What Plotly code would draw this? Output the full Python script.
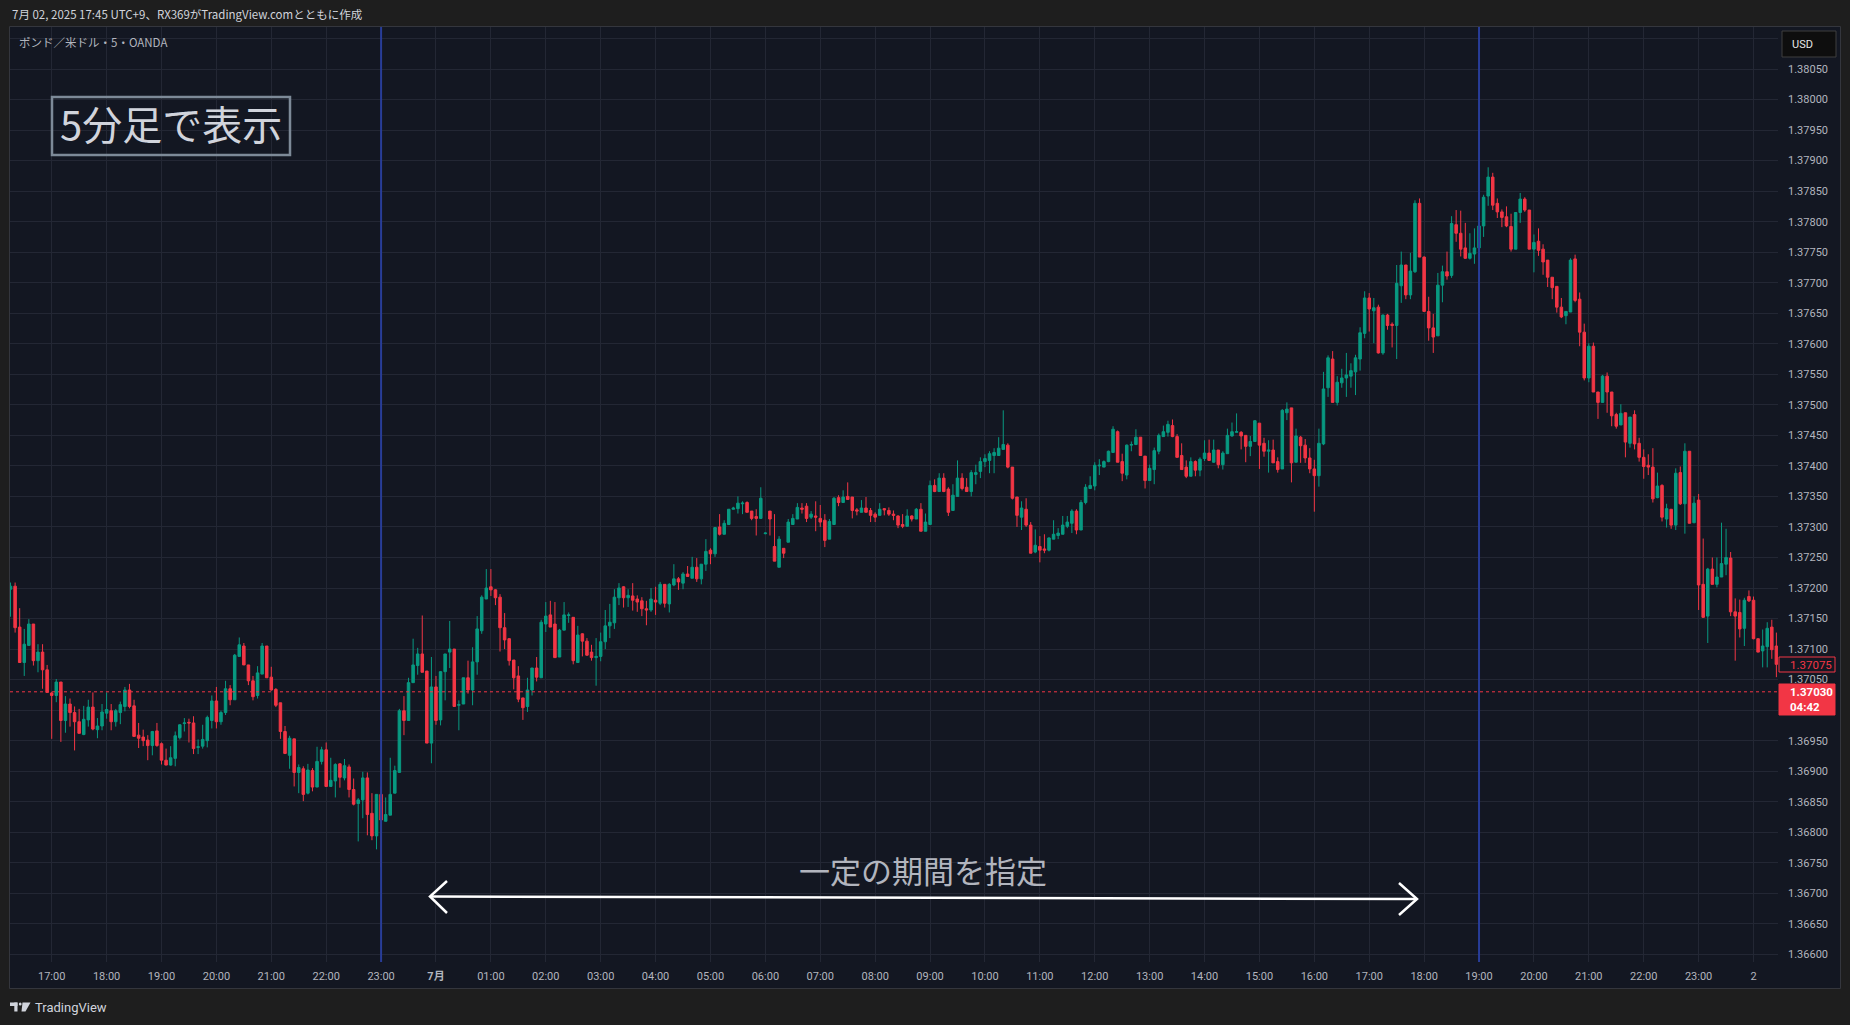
import pandas as pd
import plotly.graph_objects as go

# ---------------- data (GBP/USD, 5-minute candles, OANDA) ----------------
START_TIME = "2025-06-30 16:15"
BAR_FREQ = "5min"

OPEN = [
    1.37198, 1.37203, 1.37136, 1.37078, 1.37106, 1.37141, 1.37081, 1.37095, 1.37066, 1.37028,
    1.37024, 1.37046, 1.36983, 1.37010, 1.36996, 1.36981, 1.36960, 1.36984, 1.37005, 1.36968,
    1.36974, 1.36995, 1.36999, 1.36981, 1.36996, 1.37006, 1.37033, 1.37007, 1.36959, 1.36956,
    1.36951, 1.36942, 1.36966, 1.36945, 1.36918, 1.36910, 1.36921, 1.36955, 1.36978, 1.36980,
    1.36979, 1.36939, 1.36941, 1.36950, 1.36983, 1.37015, 1.36981, 1.36996, 1.37035, 1.37017,
    1.37088, 1.37105, 1.37074, 1.37048, 1.37024, 1.37059, 1.37105, 1.37054, 1.37034, 1.37012,
    1.36965, 1.36926, 1.36953, 1.36898, 1.36904, 1.36864, 1.36901, 1.36874, 1.36916, 1.36935,
    1.36875, 1.36884, 1.36912, 1.36889, 1.36907, 1.36870, 1.36847, 1.36853, 1.36889, 1.36831,
    1.36794, 1.36862, 1.36818, 1.36828, 1.36864, 1.36898, 1.36999, 1.36983, 1.37045, 1.37073,
    1.37092, 1.37064, 1.36946, 1.37038, 1.36984, 1.37063, 1.37095, 1.37100, 1.37008, 1.37010,
    1.37053, 1.37033, 1.37079, 1.37130, 1.37182, 1.37202, 1.37197, 1.37185, 1.37135, 1.37117,
    1.37082, 1.37056, 1.37020, 1.37006, 1.37033, 1.37069, 1.37053, 1.37141, 1.37156, 1.37141,
    1.37087, 1.37131, 1.37155, 1.37152, 1.37078, 1.37125, 1.37113, 1.37095, 1.37086,
    1.37088, 1.37112, 1.37138, 1.37143, 1.37184, 1.37202, 1.37184, 1.37187, 1.37182, 1.37179, 1.37166,
    1.37164, 1.37180, 1.37175, 1.37206, 1.37174, 1.37205, 1.37215, 1.37208, 1.37223, 1.37216,
    1.37234, 1.37215, 1.37239, 1.37262, 1.37256, 1.37300, 1.37288, 1.37304, 1.37329, 1.37330,
    1.37338, 1.37340, 1.37326, 1.37317, 1.37314, 1.37289, 1.37326, 1.37268, 1.37234, 1.37265,
    1.37275, 1.37304, 1.37313, 1.37331, 1.37334, 1.37316, 1.37318, 1.37314, 1.37311, 1.37280,
    1.37304, 1.37348, 1.37340, 1.37350, 1.37349, 1.37328, 1.37324, 1.37331, 1.37327, 1.37321,
    1.37319, 1.37330, 1.37327, 1.37321, 1.37318, 1.37304, 1.37301, 1.37318, 1.37313, 1.37329,
    1.37293, 1.37304, 1.37368, 1.37358, 1.37380, 1.37362, 1.37327, 1.37350, 1.37380, 1.37365,
    1.37358, 1.37386, 1.37391, 1.37407, 1.37409, 1.37417, 1.37417, 1.37427, 1.37434, 1.37398,
    1.37349, 1.37316, 1.37329, 1.37303, 1.37259, 1.37268, 1.37264, 1.37262, 1.37280, 1.37286,
    1.37288, 1.37301, 1.37306, 1.37326, 1.37295, 1.37340, 1.37363, 1.37367, 1.37400, 1.37398,
    1.37407, 1.37422, 1.37456, 1.37407, 1.37385, 1.37434, 1.37435, 1.37447, 1.37416, 1.37376,
    1.37394, 1.37424, 1.37448, 1.37455, 1.37466, 1.37448, 1.37417, 1.37398, 1.37383, 1.37407, 1.37393,
    1.37412, 1.37421, 1.37406, 1.37426, 1.37402, 1.37420, 1.37449, 1.37455, 1.37455,
    1.37450, 1.37432, 1.37440, 1.37470, 1.37437, 1.37424, 1.37426, 1.37407, 1.37395, 1.37487,
    1.37495, 1.37406, 1.37447, 1.37434, 1.37413, 1.37395, 1.37384, 1.37436, 1.37528, 1.37575,
    1.37504, 1.37536, 1.37544, 1.37547, 1.37554, 1.37575, 1.37617, 1.37675, 1.37654, 1.37660,
    1.37585, 1.37647, 1.37632, 1.37630, 1.37695, 1.37729, 1.37680, 1.37718, 1.37830, 1.37742,
    1.37653, 1.37626, 1.37613, 1.37696, 1.37718, 1.37712, 1.37795, 1.37781, 1.37757, 1.37740,
    1.37747, 1.37757, 1.37793, 1.37842, 1.37873, 1.37830, 1.37816, 1.37808, 1.37792, 1.37755,
    1.37815, 1.37837, 1.37819, 1.37755, 1.37768, 1.37755, 1.37737, 1.37709, 1.37694, 1.37660,
    1.37646, 1.37652, 1.37739, 1.37673, 1.37619, 1.37544, 1.37596, 1.37521, 1.37504, 1.37547,
    1.37521, 1.37484, 1.37467, 1.37487, 1.37437, 1.37484, 1.37437, 1.37414, 1.37401, 1.37398,
    1.37348, 1.37368, 1.37313, 1.37329, 1.37303, 1.37389, 1.37338, 1.37424, 1.37307, 1.37344,
    1.37206, 1.37154, 1.37231, 1.37206, 1.37218, 1.37239, 1.37249, 1.37161, 1.37160, 1.37134,
    1.37186, 1.37180, 1.37117, 1.37097, 1.37104, 1.37136, 1.37105,
]

HIGH = [
    1.37209, 1.37209, 1.37167, 1.37133, 1.37149, 1.37141, 1.37108, 1.37108, 1.37074, 1.37030,
    1.37051, 1.37046, 1.37023, 1.37019, 1.37006, 1.37002, 1.37007, 1.37017, 1.37029, 1.36987,
    1.37010, 1.37029, 1.37010, 1.37002, 1.37014, 1.37038, 1.37043, 1.37017, 1.36979, 1.36968,
    1.36959, 1.36966, 1.36979, 1.36947, 1.36937, 1.36941, 1.36965, 1.36977, 1.36987, 1.36986,
    1.36990, 1.36952, 1.36976, 1.36991, 1.37024, 1.37038, 1.36999, 1.37048, 1.37041, 1.37092,
    1.37119, 1.37110, 1.37074, 1.37056, 1.37072, 1.37110, 1.37105, 1.37071, 1.37036, 1.37012,
    1.36974, 1.36958, 1.36953, 1.36911, 1.36908, 1.36912, 1.36905, 1.36940, 1.36940, 1.36947,
    1.36922, 1.36913, 1.36913, 1.36920, 1.36911, 1.36888, 1.36856, 1.36899, 1.36898, 1.36864,
    1.36862, 1.36875, 1.36857, 1.36922, 1.36909, 1.37002, 1.37023, 1.37053, 1.37117, 1.37102,
    1.37155, 1.37064, 1.37087, 1.37056, 1.37064, 1.37092, 1.37146, 1.37100, 1.37016, 1.37053,
    1.37081, 1.37103, 1.37154, 1.37188, 1.37231, 1.37231, 1.37198, 1.37190, 1.37159, 1.37118,
    1.37082, 1.37072, 1.37020, 1.37053, 1.37069, 1.37087, 1.37148, 1.37177, 1.37179, 1.37177,
    1.37133, 1.37177, 1.37160, 1.37152, 1.37138, 1.37126, 1.37118, 1.37107, 1.37118,
    1.37127, 1.37164, 1.37174, 1.37198, 1.37208, 1.37203, 1.37198, 1.37208, 1.37188, 1.37185, 1.37179,
    1.37200, 1.37202, 1.37210, 1.37206, 1.37208, 1.37239, 1.37218, 1.37226, 1.37236, 1.37251,
    1.37249, 1.37239, 1.37280, 1.37265, 1.37300, 1.37321, 1.37311, 1.37329, 1.37333, 1.37350,
    1.37342, 1.37342, 1.37326, 1.37329, 1.37365, 1.37291, 1.37326, 1.37321, 1.37285, 1.37265,
    1.37313, 1.37321, 1.37339, 1.37339, 1.37339, 1.37326, 1.37342, 1.37336, 1.37321, 1.37313,
    1.37349, 1.37352, 1.37360, 1.37373, 1.37349, 1.37331, 1.37344, 1.37349, 1.37331, 1.37324,
    1.37339, 1.37331, 1.37332, 1.37327, 1.37319, 1.37321, 1.37329, 1.37319, 1.37331, 1.37339,
    1.37322, 1.37376, 1.37378, 1.37388, 1.37388, 1.37365, 1.37370, 1.37409, 1.37388, 1.37380,
    1.37393, 1.37402, 1.37414, 1.37419, 1.37424, 1.37429, 1.37447, 1.37491, 1.37437, 1.37398,
    1.37349, 1.37342, 1.37347, 1.37308, 1.37296, 1.37285, 1.37288, 1.37283, 1.37311, 1.37298,
    1.37318, 1.37318, 1.37329, 1.37329, 1.37344, 1.37370, 1.37383, 1.37406, 1.37411, 1.37409,
    1.37425, 1.37465, 1.37458, 1.37420, 1.37435, 1.37440, 1.37460, 1.37447, 1.37416, 1.37402,
    1.37430, 1.37453, 1.37466, 1.37474, 1.37476, 1.37452, 1.37437, 1.37409, 1.37414, 1.37409, 1.37414,
    1.37442, 1.37443, 1.37443, 1.37426, 1.37424, 1.37461, 1.37471, 1.37486, 1.37457,
    1.37450, 1.37449, 1.37475, 1.37470, 1.37446, 1.37442, 1.37443, 1.37414, 1.37493, 1.37504,
    1.37495, 1.37461, 1.37449, 1.37444, 1.37429, 1.37410, 1.37461, 1.37554, 1.37581, 1.37588,
    1.37547, 1.37559, 1.37585, 1.37568, 1.37582, 1.37627, 1.37686, 1.37683, 1.37675, 1.37664,
    1.37648, 1.37649, 1.37635, 1.37729, 1.37751, 1.37729, 1.37749, 1.37835, 1.37838, 1.37743,
    1.37677, 1.37649, 1.37716, 1.37728, 1.37751, 1.37809, 1.37819, 1.37818, 1.37798, 1.37781,
    1.37789, 1.37804, 1.37844, 1.37889, 1.37880, 1.37838, 1.37820, 1.37825, 1.37813, 1.37815,
    1.37847, 1.37840, 1.37819, 1.37779, 1.37789, 1.37763, 1.37737, 1.37709, 1.37694, 1.37675,
    1.37653, 1.37740, 1.37746, 1.37684, 1.37633, 1.37601, 1.37602, 1.37521, 1.37549, 1.37553,
    1.37521, 1.37487, 1.37501, 1.37487, 1.37480, 1.37491, 1.37446, 1.37427, 1.37419, 1.37429,
    1.37389, 1.37370, 1.37338, 1.37329, 1.37396, 1.37399, 1.37437, 1.37424, 1.37350, 1.37354,
    1.37281, 1.37233, 1.37250, 1.37250, 1.37307, 1.37297, 1.37259, 1.37183, 1.37181, 1.37184,
    1.37196, 1.37186, 1.37117, 1.37132, 1.37144, 1.37148, 1.37127,
]

LOW = [
    1.37153, 1.37127, 1.37078, 1.37056, 1.37106, 1.37073, 1.37062, 1.37035, 1.37029, 1.36953,
    1.37013, 1.36948, 1.36963, 1.36973, 1.36934, 1.36962, 1.36959, 1.36973, 1.36967, 1.36954,
    1.36967, 1.36986, 1.36967, 1.36973, 1.36977, 1.36998, 1.37003, 1.36957, 1.36938, 1.36941,
    1.36918, 1.36926, 1.36940, 1.36911, 1.36910, 1.36909, 1.36908, 1.36952, 1.36965, 1.36947,
    1.36928, 1.36928, 1.36937, 1.36939, 1.36970, 1.36970, 1.36976, 1.36992, 1.37008, 1.37017,
    1.37088, 1.37074, 1.37041, 1.37016, 1.37019, 1.37059, 1.37053, 1.37032, 1.37005, 1.36953,
    1.36928, 1.36904, 1.36875, 1.36864, 1.36851, 1.36862, 1.36867, 1.36874, 1.36911, 1.36875,
    1.36875, 1.36857, 1.36873, 1.36885, 1.36857, 1.36844, 1.36785, 1.36823, 1.36795, 1.36787,
    1.36772, 1.36743, 1.36818, 1.36828, 1.36864, 1.36898, 1.36959, 1.36983, 1.37045, 1.37058,
    1.37062, 1.36946, 1.36913, 1.36976, 1.36975, 1.37016, 1.37069, 1.37006, 1.36967, 1.37010,
    1.37027, 1.37008, 1.37058, 1.37125, 1.37182, 1.37187, 1.37172, 1.37096, 1.37100, 1.37073,
    1.37034, 1.37013, 1.36984, 1.36997, 1.37024, 1.37047, 1.37053, 1.37128, 1.37136, 1.37086,
    1.37087, 1.37131, 1.37143, 1.37075, 1.37078, 1.37088, 1.37089, 1.37081, 1.37040,
    1.37080, 1.37100, 1.37118, 1.37133, 1.37172, 1.37168, 1.37169, 1.37163, 1.37161, 1.37154, 1.37139,
    1.37161, 1.37156, 1.37172, 1.37168, 1.37160, 1.37203, 1.37197, 1.37198, 1.37218, 1.37216,
    1.37210, 1.37206, 1.37228, 1.37239, 1.37251, 1.37286, 1.37288, 1.37304, 1.37329, 1.37322,
    1.37321, 1.37324, 1.37311, 1.37286, 1.37313, 1.37288, 1.37286, 1.37244, 1.37234, 1.37249,
    1.37275, 1.37304, 1.37313, 1.37322, 1.37308, 1.37313, 1.37293, 1.37300, 1.37267, 1.37280,
    1.37304, 1.37334, 1.37340, 1.37345, 1.37314, 1.37319, 1.37324, 1.37324, 1.37308, 1.37308,
    1.37319, 1.37319, 1.37318, 1.37311, 1.37298, 1.37298, 1.37301, 1.37309, 1.37313, 1.37293,
    1.37293, 1.37304, 1.37357, 1.37358, 1.37357, 1.37318, 1.37327, 1.37350, 1.37360, 1.37358,
    1.37350, 1.37370, 1.37380, 1.37398, 1.37388, 1.37388, 1.37417, 1.37427, 1.37396, 1.37345,
    1.37300, 1.37295, 1.37300, 1.37257, 1.37257, 1.37242, 1.37257, 1.37260, 1.37280, 1.37280,
    1.37288, 1.37298, 1.37290, 1.37288, 1.37295, 1.37337, 1.37362, 1.37360, 1.37385, 1.37398,
    1.37406, 1.37422, 1.37406, 1.37375, 1.37378, 1.37424, 1.37434, 1.37417, 1.37363, 1.37376,
    1.37370, 1.37419, 1.37448, 1.37448, 1.37447, 1.37414, 1.37394, 1.37380, 1.37383, 1.37383, 1.37383,
    1.37408, 1.37408, 1.37405, 1.37396, 1.37394, 1.37420, 1.37448, 1.37455, 1.37427,
    1.37406, 1.37416, 1.37440, 1.37395, 1.37415, 1.37389, 1.37405, 1.37389, 1.37395, 1.37475,
    1.37373, 1.37406, 1.37405, 1.37405, 1.37388, 1.37325, 1.37366, 1.37434, 1.37513, 1.37504,
    1.37499, 1.37528, 1.37513, 1.37528, 1.37516, 1.37556, 1.37609, 1.37620, 1.37601, 1.37584,
    1.37582, 1.37623, 1.37594, 1.37575, 1.37667, 1.37673, 1.37673, 1.37716, 1.37742, 1.37653,
    1.37605, 1.37585, 1.37613, 1.37668, 1.37705, 1.37708, 1.37767, 1.37743, 1.37739, 1.37738,
    1.37731, 1.37753, 1.37775, 1.37826, 1.37819, 1.37806, 1.37791, 1.37791, 1.37751, 1.37755,
    1.37798, 1.37816, 1.37755, 1.37717, 1.37744, 1.37713, 1.37693, 1.37673, 1.37651, 1.37642,
    1.37632, 1.37652, 1.37668, 1.37596, 1.37540, 1.37537, 1.37521, 1.37477, 1.37504, 1.37487,
    1.37465, 1.37461, 1.37467, 1.37414, 1.37430, 1.37427, 1.37407, 1.37379, 1.37385, 1.37340,
    1.37347, 1.37309, 1.37299, 1.37297, 1.37295, 1.37336, 1.37289, 1.37306, 1.37306, 1.37164,
    1.37151, 1.37110, 1.37206, 1.37201, 1.37218, 1.37221, 1.37154, 1.37081, 1.37119, 1.37105,
    1.37177, 1.37116, 1.37095, 1.37070, 1.37070, 1.37084, 1.37054,
]

CLOSE = [
    1.37203, 1.37135, 1.37078, 1.37108, 1.37141, 1.37081, 1.37095, 1.37066, 1.37029, 1.37024,
    1.37046, 1.36983, 1.37010, 1.36996, 1.36981, 1.36962, 1.36985, 1.37005, 1.36969, 1.36974,
    1.36997, 1.37001, 1.36981, 1.36999, 1.37009, 1.37033, 1.37006, 1.36957, 1.36954, 1.36950,
    1.36942, 1.36965, 1.36942, 1.36918, 1.36910, 1.36922, 1.36958, 1.36976, 1.36979, 1.36979,
    1.36937, 1.36940, 1.36952, 1.36988, 1.37015, 1.36981, 1.36996, 1.37035, 1.37017, 1.37090,
    1.37107, 1.37074, 1.37048, 1.37022, 1.37061, 1.37105, 1.37053, 1.37033, 1.37008, 1.36965,
    1.36929, 1.36954, 1.36898, 1.36906, 1.36862, 1.36902, 1.36874, 1.36916, 1.36935, 1.36875,
    1.36885, 1.36911, 1.36890, 1.36909, 1.36870, 1.36846, 1.36853, 1.36889, 1.36829, 1.36794,
    1.36862, 1.36820, 1.36829, 1.36862, 1.36901, 1.36999, 1.36983, 1.37045, 1.37074, 1.37092,
    1.37062, 1.36946, 1.37038, 1.36983, 1.37063, 1.37092, 1.37100, 1.37006, 1.37009, 1.37053,
    1.37033, 1.37079, 1.37133, 1.37185, 1.37200, 1.37197, 1.37184, 1.37135, 1.37115, 1.37081,
    1.37053, 1.37018, 1.37004, 1.37033, 1.37069, 1.37054, 1.37144, 1.37154, 1.37136, 1.37086,
    1.37131, 1.37156, 1.37156, 1.37081, 1.37123, 1.37113, 1.37090, 1.37086, 1.37088,
    1.37112, 1.37138, 1.37144, 1.37185, 1.37200, 1.37184, 1.37188, 1.37180, 1.37177, 1.37166, 1.37164,
    1.37182, 1.37177, 1.37206, 1.37175, 1.37206, 1.37215, 1.37210, 1.37223, 1.37219, 1.37234,
    1.37215, 1.37239, 1.37260, 1.37256, 1.37299, 1.37288, 1.37306, 1.37329, 1.37331, 1.37339,
    1.37339, 1.37324, 1.37314, 1.37314, 1.37347, 1.37290, 1.37313, 1.37244, 1.37280, 1.37257,
    1.37308, 1.37314, 1.37332, 1.37329, 1.37314, 1.37321, 1.37316, 1.37308, 1.37278, 1.37309,
    1.37347, 1.37340, 1.37349, 1.37345, 1.37327, 1.37326, 1.37331, 1.37324, 1.37319, 1.37316,
    1.37329, 1.37328, 1.37321, 1.37319, 1.37303, 1.37301, 1.37318, 1.37313, 1.37329, 1.37293,
    1.37308, 1.37368, 1.37358, 1.37380, 1.37358, 1.37324, 1.37352, 1.37380, 1.37363, 1.37358,
    1.37389, 1.37389, 1.37407, 1.37412, 1.37420, 1.37422, 1.37429, 1.37435, 1.37398, 1.37347,
    1.37319, 1.37331, 1.37303, 1.37257, 1.37270, 1.37262, 1.37262, 1.37282, 1.37288, 1.37290,
    1.37303, 1.37308, 1.37326, 1.37295, 1.37340, 1.37365, 1.37368, 1.37401, 1.37401, 1.37407,
    1.37424, 1.37460, 1.37406, 1.37388, 1.37434, 1.37435, 1.37447, 1.37417, 1.37376, 1.37396,
    1.37425, 1.37450, 1.37456, 1.37468, 1.37448, 1.37414, 1.37394, 1.37383, 1.37407, 1.37393, 1.37411,
    1.37421, 1.37409, 1.37426, 1.37402, 1.37421, 1.37450, 1.37456, 1.37456, 1.37449,
    1.37432, 1.37440, 1.37474, 1.37434, 1.37424, 1.37426, 1.37405, 1.37394, 1.37491, 1.37493,
    1.37405, 1.37449, 1.37433, 1.37413, 1.37395, 1.37384, 1.37437, 1.37526, 1.37577, 1.37504,
    1.37537, 1.37544, 1.37549, 1.37556, 1.37577, 1.37618, 1.37675, 1.37657, 1.37659, 1.37585,
    1.37647, 1.37630, 1.37630, 1.37699, 1.37729, 1.37680, 1.37719, 1.37830, 1.37742, 1.37653,
    1.37626, 1.37611, 1.37696, 1.37718, 1.37711, 1.37797, 1.37781, 1.37755, 1.37740, 1.37748,
    1.37757, 1.37793, 1.37840, 1.37873, 1.37827, 1.37816, 1.37807, 1.37793, 1.37755, 1.37815,
    1.37837, 1.37819, 1.37755, 1.37766, 1.37753, 1.37734, 1.37709, 1.37692, 1.37660, 1.37644,
    1.37653, 1.37737, 1.37671, 1.37619, 1.37544, 1.37596, 1.37521, 1.37504, 1.37547, 1.37521,
    1.37482, 1.37465, 1.37486, 1.37439, 1.37480, 1.37436, 1.37414, 1.37399, 1.37398, 1.37346,
    1.37367, 1.37316, 1.37330, 1.37303, 1.37388, 1.37338, 1.37424, 1.37306, 1.37339, 1.37205,
    1.37152, 1.37231, 1.37206, 1.37218, 1.37240, 1.37250, 1.37161, 1.37154, 1.37133, 1.37180,
    1.37179, 1.37117, 1.37095, 1.37105, 1.37134, 1.37099, 1.37075,
]

# price-scale labels / markers
Y_TICKS = [round(1.36600 + 0.0005 * i, 5) for i in range(31)]
HIDDEN_Y_LABELS = [1.37000, 1.38100]   # covered by the price tag / currency box
Y_TICK_TEXT = ["" if any(abs(v - h) < 1e-9 for h in HIDDEN_Y_LABELS) else f"{v:.5f}"
               for v in Y_TICKS]
LAST_CLOSE_LABEL = "1.37075"
PRICE_LINE = 1.37030
PRICE_LINE_LABEL = "1.37030"
COUNTDOWN = "04:42"
VLINE_TIMES = ["2025-06-30 23:00", "2025-07-01 19:00"]
HEADER = "7月 02, 2025 17:45 UTC+9、RX369がTradingView.comとともに作成"
PANE_TITLE = "ポンド／米ドル・5・OANDA"
BOX_TEXT = "5分足で表示"
ARROW_TEXT = "一定の期間を指定"

# ---------------- build ----------------
n = min(len(OPEN), len(HIGH), len(LOW), len(CLOSE))
times = pd.date_range(START_TIME, periods=n, freq=BAR_FREQ)

hour_ticks = pd.date_range("2025-06-30 17:00", "2025-07-02 00:00", freq="1h")
hour_text = []
for t in hour_ticks:
    if t.hour == 0 and t.day == 1:
        hour_text.append("<b>7月</b>")
    elif t.hour == 0 and t.day == 2:
        hour_text.append("2")
    else:
        hour_text.append(t.strftime("%H:%M"))

W, H = 1850, 1025
ML, MR, MT, MB = 10, 72, 27, 63
PW, PH = W - ML - MR, H - MT - MB


def px(xp):
    return (xp - ML) / PW


def py(yp):
    return (H - MB - yp) / PH


BG_OUT = "#1e1e1e"
BG_PANE = "#131722"
GRID = "#232734"
TXT = "#b2b5be"
UP = "#089981"
DN = "#f23645"
FONT = "Roboto, 'Noto Sans CJK JP', sans-serif"
JFONT = "'Noto Sans CJK JP', sans-serif"

fig = go.Figure()
fig.add_trace(go.Candlestick(
    x=times, open=OPEN[:n], high=HIGH[:n], low=LOW[:n], close=CLOSE[:n],
    increasing=dict(line=dict(color=UP, width=1), fillcolor=UP),
    decreasing=dict(line=dict(color=DN, width=1), fillcolor=DN),
    whiskerwidth=0, showlegend=False, hoverinfo="skip",
))

shapes = []
# chart pane background + frame
shapes.append(dict(type="rect", xref="paper", yref="paper", layer="below",
                   x0=px(9.5), x1=px(1840.5), y0=py(26.5), y1=py(988.5),
                   fillcolor=BG_PANE, line=dict(color="#34363d", width=1)))
# vertical marker lines
for vt in VLINE_TIMES:
    shapes.append(dict(type="line", xref="x", yref="paper", x0=vt, x1=vt, y0=0, y1=1,
                       line=dict(color="#283d98", width=2), layer="above"))
# current price dotted line
shapes.append(dict(type="line", xref="paper", yref="y", x0=0, x1=1,
                   y0=PRICE_LINE, y1=PRICE_LINE,
                   line=dict(color=DN, width=1, dash="dot")))
# "5分足で表示" box
shapes.append(dict(type="rect", xref="paper", yref="paper",
                   x0=px(52), x1=px(290), y0=py(155), y1=py(97),
                   fillcolor="rgba(0,0,0,0)", line=dict(color="#7d8a98", width=2.5)))
# double arrow
shapes.append(dict(type="line", xref="paper", yref="paper",
                   x0=px(431), y0=py(896.5), x1=px(1416), y1=py(899),
                   line=dict(color="#ffffff", width=2.5)))
shapes.append(dict(type="path", xref="paper", yref="paper",
                   path=f"M {px(447)},{py(881)} L {px(430)},{py(896.5)} L {px(447)},{py(913)}",
                   line=dict(color="#ffffff", width=2.5)))
shapes.append(dict(type="path", xref="paper", yref="paper",
                   path=f"M {px(1399)},{py(883)} L {px(1417)},{py(899)} L {px(1399)},{py(915)}",
                   line=dict(color="#ffffff", width=2.5)))
# price-axis labels
shapes.append(dict(type="rect", xref="paper", yref="paper",
                   x0=px(1779), x1=px(1835), y0=py(672), y1=py(657),
                   fillcolor=BG_PANE, line=dict(color=DN, width=1)))
shapes.append(dict(type="rect", xref="paper", yref="paper",
                   x0=px(1779), x1=px(1835), y0=py(715), y1=py(684),
                   fillcolor=DN, line=dict(color=DN, width=1)))
# USD box
shapes.append(dict(type="rect", xref="paper", yref="paper",
                   x0=px(1782), x1=px(1836), y0=py(57), y1=py(31),
                   fillcolor="#0e0e0e", line=dict(color="#3e3e3e", width=1)))
# TradingView logo (simplified)
shapes.append(dict(type="rect", xref="paper", yref="paper",
                   x0=px(10), x1=px(17.5), y0=py(1006), y1=py(1002.5),
                   fillcolor="#d1d4dc", line=dict(width=0)))
shapes.append(dict(type="rect", xref="paper", yref="paper",
                   x0=px(14.3), x1=px(17.5), y0=py(1011.5), y1=py(1002.5),
                   fillcolor="#d1d4dc", line=dict(width=0)))
shapes.append(dict(type="circle", xref="paper", yref="paper",
                   x0=px(18.8), x1=px(21.6), y0=py(1005.5), y1=py(1002.5),
                   fillcolor="#d1d4dc", line=dict(width=0)))
shapes.append(dict(type="path", xref="paper", yref="paper",
                   path=f"M {px(22.5)},{py(1002.5)} L {px(30.5)},{py(1002.5)} L {px(25.5)},{py(1011.5)} L {px(21.5)},{py(1011.5)} Z",
                   fillcolor="#d1d4dc", line=dict(width=0)))

annotations = [
    dict(text=HEADER, x=px(10), y=py(14), xref="paper", yref="paper",
         xanchor="left", yanchor="middle", showarrow=False,
         font=dict(family=JFONT, size=11.5, color="#d1d4dc")),
    dict(text=PANE_TITLE, x=px(17), y=py(42), xref="paper", yref="paper",
         xanchor="left", yanchor="middle", showarrow=False,
         font=dict(family=JFONT, size=11.5, color=TXT)),
    dict(text=BOX_TEXT, x=px(171), y=py(123), xref="paper", yref="paper",
         xanchor="center", yanchor="middle", showarrow=False,
         font=dict(family=JFONT, size=40, color="#d1d4dc")),
    dict(text=ARROW_TEXT, x=px(923), y=py(869), xref="paper", yref="paper",
         xanchor="center", yanchor="middle", showarrow=False,
         font=dict(family=JFONT, size=31, color="#b2b5be")),
    dict(text=LAST_CLOSE_LABEL, x=px(1788), y=py(664.5), xref="paper", yref="paper",
         xanchor="left", yanchor="middle", showarrow=False,
         font=dict(family=FONT, size=11.5, color=DN)),
    dict(text=f"<b>{PRICE_LINE_LABEL}</b>", x=px(1788), y=py(692), xref="paper", yref="paper",
         xanchor="left", yanchor="middle", showarrow=False,
         font=dict(family=FONT, size=11.5, color="#ffffff")),
    dict(text=f"<b>{COUNTDOWN}</b>", x=px(1788), y=py(707), xref="paper", yref="paper",
         xanchor="left", yanchor="middle", showarrow=False,
         font=dict(family=FONT, size=11.5, color="#ffffff")),
    dict(text="USD", x=px(1790), y=py(44), xref="paper", yref="paper",
         xanchor="left", yanchor="middle", showarrow=False,
         font=dict(family=FONT, size=11, color="#e6e6e6")),
    dict(text="TradingView", x=px(33), y=py(1007), xref="paper", yref="paper",
         xanchor="left", yanchor="middle", showarrow=False,
         font=dict(family=FONT, size=13, color="#d1d4dc")),
]

fig.update_layout(
    width=W, height=H,
    margin=dict(l=ML, r=MR, t=MT, b=MB, pad=0),
    paper_bgcolor=BG_OUT, plot_bgcolor=BG_PANE,
    font=dict(family=FONT, color=TXT, size=11),
    showlegend=False,
    boxgap=0.45, boxgroupgap=0,
    shapes=shapes, annotations=annotations,
    xaxis=dict(
        type="date",
        range=["2025-06-30 16:14:25", "2025-07-02 00:26:46"],
        tickvals=list(hour_ticks), ticktext=hour_text,
        showgrid=True, gridcolor=GRID, gridwidth=1,
        zeroline=False, showline=False, ticks="",
        tickfont=dict(family=FONT, size=11, color=TXT),
        rangeslider=dict(visible=False), fixedrange=True,
        ticklabelstandoff=6,
    ),
    yaxis=dict(
        side="right",
        range=[1.365875, 1.381188],
        tickvals=Y_TICKS, ticktext=Y_TICK_TEXT,
        showgrid=True, gridcolor=GRID, gridwidth=1,
        zeroline=False, showline=False, ticks="",
        tickfont=dict(family=FONT, size=11, color=TXT),
        fixedrange=True,
        ticklabelstandoff=9,
    ),
)

fig.write_html(
    "out.html",
    config={"displayModeBar": False},
    post_script="document.body.style.margin='0';document.body.style.overflow='hidden';",
)
